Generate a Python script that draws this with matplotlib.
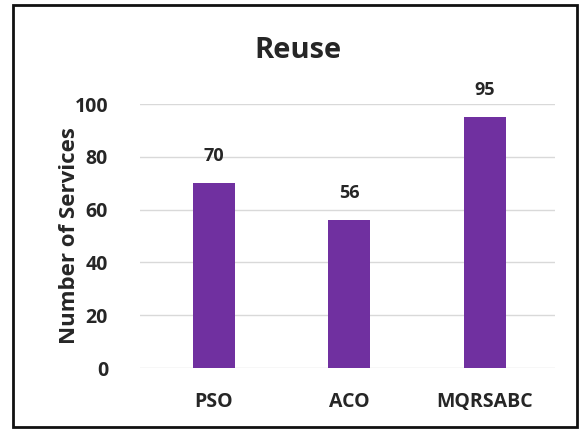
import matplotlib.pyplot as plt
from matplotlib.patches import Rectangle

# number of services reused by each algorithm
algorithms = ['PSO', 'ACO', 'MQRSABC']
services = [70, 56, 95]
yticks = [0, 20, 40, 60, 80, 100]

plt.rcParams['font.family'] = ['Open Sans', 'DejaVu Sans']

fig = plt.figure(figsize=(5.79, 4.30), dpi=100)
ax = fig.add_axes([140 / 579, 1 - 368 / 430, 415 / 579, 264 / 430])

x = range(len(algorithms))
bars = ax.bar(x, services, width=0.31, color='#7030A0', zorder=3)
for b, v in zip(bars, services):
    ax.annotate(str(v), (b.get_x() + b.get_width() / 2, v), xytext=(0, 13),
                textcoords='offset points', ha='center', va='bottom',
                fontsize=13, fontweight='bold', color='#262626', annotation_clip=False)

ax.set_xlim(-0.545, 2.52)
ax.set_ylim(0, 100)
ax.set_yticks(yticks)
ax.set_xticks(list(x))
ax.set_xticklabels(algorithms)
ax.grid(axis='y', color='#D9D9D9', linewidth=1, zorder=0)
ax.tick_params(length=0, labelsize=14, colors='#262626')
ax.tick_params(axis='x', pad=17)
ax.tick_params(axis='y', pad=23)
for lbl in ax.get_xticklabels() + ax.get_yticklabels():
    lbl.set_fontweight('bold')
for s in ax.spines.values():
    s.set_visible(False)

ax.set_ylabel('Number of Services', fontsize=16, fontweight='bold', color='#262626')
ax.yaxis.set_label_coords(-0.145, 0.5)
fig.text(298 / 579, 1 - 51 / 430, 'Reuse', ha='center', va='center',
         fontsize=21, fontweight='bold', color='#262626')

# outer frame around the chart
fig.patches.append(Rectangle((13 / 579, 3 / 430), 564 / 579, 422 / 430,
                             transform=fig.transFigure, fill=False,
                             edgecolor='#111111', linewidth=2))

fig.savefig('out.png', dpi=100)
